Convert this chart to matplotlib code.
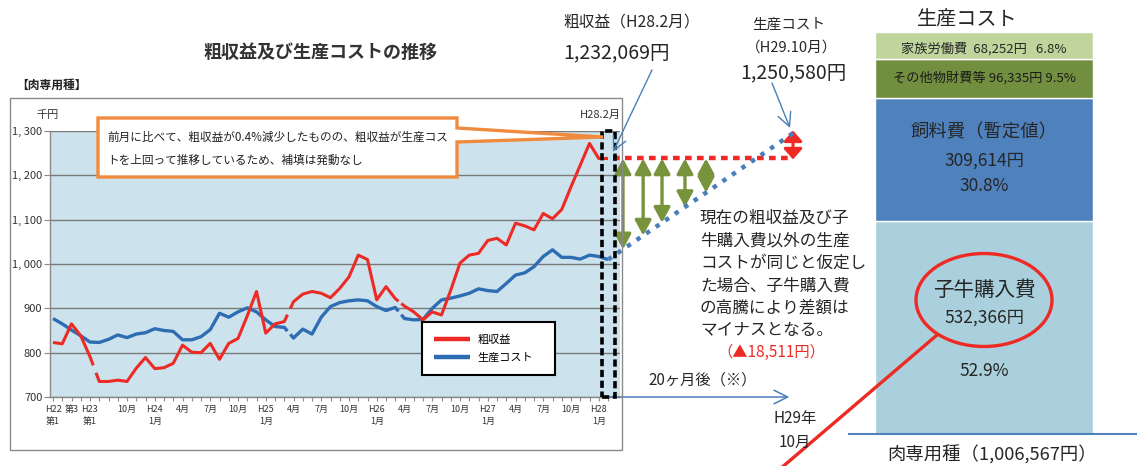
import numpy as np
import matplotlib
matplotlib.use('Agg')
import matplotlib.pyplot as plt
from matplotlib.patches import Rectangle, Polygon, Ellipse

plt.rcParams['font.family'] = ['Noto Sans CJK JP', 'DejaVu Sans']

W, H = 1137, 466

# ---------------- data ----------------
revenue = [823, 820, 865, 838, 791,
           735, 735, 738, 735, 765, 789, 764, 766, 776, 817, 801, 800, 821, 785, 821,
           832, 883, 938, 844, 865, 870,
           915, 932, 938, 934, 924, 945, 971, 1020, 1010, 919, 949, 922,
           905, 892, 874, 892, 885, 941, 1002, 1020, 1024, 1053, 1058, 1043, 1092,
           1086, 1077, 1114, 1102, 1123, 1174, 1223, 1272, 1238, 1238]
cost = [877, 865, 851, 838, 824,
        823, 830, 840, 834, 842, 845, 854, 850, 848, 829, 829, 836, 852, 889, 880,
        892, 901, 892, 874, 859, 857,
        833, 853, 842, 880, 904, 913, 917, 919, 917, 904, 895, 902,
        877, 874, 875, 900, 919, 923, 928, 934, 944, 940, 938, 956, 975,
        980, 994, 1017, 1032, 1015, 1015, 1011, 1020, 1017, 1010]
revenue_breaks = [5, 26, 38]
cost_breaks = [26, 38]

xtick_pos = [0, 2, 4, 8, 11, 14, 17, 20, 23, 26, 29, 32, 35, 38, 41, 44, 47, 50, 53, 56, 59]
xtick_labels = ['H22\n第1', '第3', 'H23\n第1', '10月', 'H24\n1月', '4月', '7月', '10月',
                'H25\n1月', '4月', '7月', '10月', 'H26\n1月', '4月', '7月', '10月',
                'H27\n1月', '4月', '7月', '10月', 'H28\n1月']
ytick_values = [700, 800, 900, 1000, 1100, 1200, 1300]
ytick_labels = ['700', '800', '900', '1, 000', '1, 100', '1, 200', '1, 300']

months_ahead = 20
cost_projected = 1295          # end of the projected cost line as drawn (千円)

revenue_label = '1,232,069円'
cost_label = '1,250,580円'
gap_label = '（▲18,511円）'

bar_items = ['子牛購入費', '飼料費（暫定値）', 'その他物財費等', '家族労働費']
bar_values = [532366, 309614, 96335, 68252]
bar_shares = [52.9, 30.8, 9.5, 6.8]
bar_value_labels = ['532,366円', '309,614円', '96,335円', '68,252円']
bar_total_label = '肉専用種（1,006,567円）'

# ---------------- styles ----------------
RED = '#ee2a24'
BLUE = '#2e6db4'
GREEN = '#77933c'
DBLUE = '#4a7ebb'
TXT = '#262626'
bar_colors = ['#a9d0dc', '#4f81bd', '#728f3f', '#c0d59c']

fig = plt.figure(figsize=(W / 100, H / 100), dpi=100)
fig.patch.set_facecolor('white')


def px_axes(x0, y0, x1, y1):
    return fig.add_axes([x0 / W, 1 - y1 / H, (x1 - x0) / W, (y1 - y0) / H])


# ---------------- line chart ----------------
ax = px_axes(50, 131, 620, 397)
ax.set_facecolor('#cce3ed')
ax.set_xlim((50 - 53) / 9.25, (620 - 53) / 9.25)
ax.set_ylim(700, 1300)


def draw_series(vals, breaks, color, lw, z):
    """Draw a series as segments; at each break, only a short gap is left open."""
    vals = np.asarray(vals, dtype=float)
    idx = [0] + list(breaks) + [len(vals)]
    handles = []
    for a, b in zip(idx[:-1], idx[1:]):
        xs = list(np.arange(a, b, dtype=float))
        ys = list(vals[a:b])
        if a > 0:   # resume part of the connecting interval
            t = 0.65
            xs.insert(0, a - 1 + t)
            ys.insert(0, vals[a - 1] + t * (vals[a] - vals[a - 1]))
        if b < len(vals):  # lead-in part of the connecting interval
            t = 0.35
            xs.append(b - 1 + t)
            ys.append(vals[b - 1] + t * (vals[b] - vals[b - 1]))
        handles += ax.plot(xs, ys, color=color, lw=lw, solid_capstyle='butt', zorder=z)
    return handles


cost_lines = draw_series(cost, cost_breaks, BLUE, 2.4, 3)
rev_lines = draw_series(revenue, revenue_breaks, RED, 2.2, 4)

ax.set_yticks(ytick_values, ytick_labels)
ax.set_xticks(xtick_pos, xtick_labels)
ax.set_xticks(np.arange(0, len(revenue)), minor=True)
ax.yaxis.grid(True, color='#7a7a7a', lw=1.0)
ax.set_axisbelow(True)
for s in ['top', 'right']:
    ax.spines[s].set_visible(False)
for s in ['left', 'bottom']:
    ax.spines[s].set_color('#8a8a8a')
    ax.spines[s].set_linewidth(1.0)
ax.tick_params(axis='y', length=4, width=0.8, color='#8a8a8a', labelsize=8,
               labelcolor='#333333', pad=1.5)
ax.tick_params(axis='x', which='both', length=3, width=0.8, color='#8a8a8a',
               labelsize=6.5, labelcolor='#333333', pad=3)
for t in ax.get_xticklabels():
    t.set_linespacing(1.35)

leg = ax.legend([rev_lines[0], cost_lines[0]], ['粗収益', '生産コスト'],
                loc='upper left', bbox_to_anchor=(422 / W, 1 - 379 / H, 133 / W, 57 / H),
                bbox_transform=fig.transFigure, mode='expand', fontsize=8,
                handlelength=3.2, handletextpad=0.7, borderpad=1.1, labelspacing=0.75,
                fancybox=False, framealpha=1, borderaxespad=0)
leg.get_frame().set_edgecolor('black')
leg.get_frame().set_linewidth(1.5)
for l in leg.get_lines():
    l.set_linewidth(3.2)
leg.set_zorder(6)

last = len(revenue) - 1
end = last + months_ahead
rev_now = revenue[-1]
cost_now = cost[-1]

# dashed focus box on the latest month
ax.add_patch(Rectangle((last - 0.65, 700), 1.4, 600, fill=False, edgecolor='black',
                       lw=2.6, linestyle=(0, (2, 1)), clip_on=False, zorder=7))

# projection lines
ax.plot([last + 0.5, end], [rev_now, rev_now], color=RED, lw=3.2,
        linestyle=(0, (1.5, 1.2)), clip_on=False, zorder=5)
ax.plot([last, end], [cost_now, cost_projected], color=DBLUE, lw=3.2,
        linestyle=(0, (1, 1.6)), clip_on=False, zorder=5)

for f in [0.081, 0.19, 0.292, 0.416, 0.53]:
    xa = last + f * months_ahead
    yb = cost_now + f * (cost_projected - cost_now)
    ax.annotate('', xy=(xa, rev_now), xytext=(xa, yb), annotation_clip=False,
                arrowprops=dict(arrowstyle='<|-|>,head_length=0.65,head_width=0.35',
                                mutation_scale=14, lw=2.4, color=GREEN,
                                shrinkA=0, shrinkB=0))
ax.annotate('', xy=(end, cost_projected + 6), xytext=(end, rev_now - 2), annotation_clip=False,
            arrowprops=dict(arrowstyle='<|-|>,head_length=0.45,head_width=0.4',
                            mutation_scale=14, lw=2.2, color=RED, shrinkA=0, shrinkB=0))
ax.annotate('', xy=(end - 0.4, 700), xytext=(last, 700), annotation_clip=False,
            arrowprops=dict(arrowstyle='->,head_length=0.7,head_width=0.35',
                            mutation_scale=14, lw=1.1, color=DBLUE, shrinkA=0, shrinkB=0))

# ---------------- stacked bar ----------------
bx = px_axes(875, 32, 1093, 434)
bottom = 0
for v, c in zip(bar_values, bar_colors):
    bx.bar(0.5, v, width=1.0, bottom=bottom, color=c, edgecolor='white', linewidth=1.0)
    bottom += v
bx.set_xlim(0, 1)
bx.set_ylim(0, sum(bar_values))
bx.axis('off')

# ---------------- overlay (pixel coordinates) ----------------
ov = fig.add_axes([0, 0, 1, 1])
ov.set_xlim(0, W)
ov.set_ylim(H, 0)
ov.axis('off')
ov.set_zorder(10)
ov.patch.set_alpha(0)

# outer chart frame
ov.add_patch(Rectangle((10, 98), 612, 352, fill=False, edgecolor='#8a8a8a', lw=1.0))

ov.text(320, 52, '粗収益及び生産コストの推移', fontsize=13, fontweight='bold',
        color='#333333', ha='center', va='center')
ov.text(16, 85, '【肉専用種】', fontsize=8.5, fontweight='bold', color='#222222',
        ha='left', va='center')
ov.text(48, 115, '千円', fontsize=8, color='#333333', ha='center', va='center')
ov.text(600, 115, 'H28.2月', fontsize=8, color='#333333', ha='center', va='center')

# callout
ov.add_patch(Polygon([(98, 118), (457, 118), (457, 128), (603, 137), (457, 142),
                      (457, 177), (98, 177)], closed=True, facecolor='white',
                     edgecolor='#f08a3c', lw=2.4, joinstyle='miter'))
ov.text(107, 137, '前月に比べて、粗収益が0.4%減少したものの、粗収益が生産コス',
        fontsize=8.4, color='#222222', ha='left', va='center')
ov.text(107, 160, 'トを上回って推移しているため、補填は発動なし',
        fontsize=8.4, color='#222222', ha='left', va='center')

# revenue / cost labels
ov.text(563, 22, '粗収益（H28.2月）', fontsize=11.3, color=TXT, ha='left', va='center')
ov.text(563, 53, revenue_label, fontsize=14, color=TXT, ha='left', va='center')
ov.text(789, 25, '生産コスト', fontsize=10.5, color=TXT, ha='center', va='center')
ov.text(792, 48, '（H29.10月）', fontsize=10.5, color=TXT, ha='center', va='center')
ov.text(793, 73, cost_label, fontsize=14, color=TXT, ha='center', va='center')
arrow_kw = dict(arrowstyle='->,head_length=0.7,head_width=0.35', mutation_scale=14,
                lw=1.0, color=DBLUE, shrinkA=0, shrinkB=0)
ov.annotate('', xy=(613, 152), xytext=(652, 70), arrowprops=arrow_kw)
ov.annotate('', xy=(790, 128), xytext=(772, 83), arrowprops=arrow_kw)

para = ['現在の粗収益及び子', '牛購入費以外の生産', 'コストが同じと仮定し',
        'た場合、子牛購入費', 'の高騰により差額は', 'マイナスとなる。']
for k, line in enumerate(para):
    ov.text(700, 218 + 22.6 * k, line, fontsize=12, color=TXT, ha='left', va='center')
ov.text(771, 352, gap_label, fontsize=11, color=RED, ha='center', va='center')
ov.text(648, 380, '20ヶ月後（※）', fontsize=11, color=TXT, ha='left', va='center')
ov.text(795, 419, 'H29年', fontsize=11, color=TXT, ha='center', va='center')
ov.text(795, 442, '10月', fontsize=11, color=TXT, ha='center', va='center')

# bar labels
ov.text(967, 20, '生産コスト', fontsize=14.5, color=TXT, ha='center', va='center')
ov.text(984, 49, f'{bar_items[3]}  {bar_value_labels[3]}   {bar_shares[3]}%',
        fontsize=9.5, color=TXT, ha='center', va='center')
ov.text(984, 78, f'{bar_items[2]} {bar_value_labels[2]} {bar_shares[2]}%',
        fontsize=9.5, color='#1a1a1a', ha='center', va='center')
ov.text(984, 132, bar_items[1], fontsize=13.2, color=TXT, ha='center', va='center')
ov.text(984, 161, bar_value_labels[1], fontsize=12.5, color=TXT, ha='center', va='center')
ov.text(984, 186, f'{bar_shares[1]}%', fontsize=12.5, color=TXT, ha='center', va='center')
ov.text(984, 290, bar_items[0], fontsize=14.8, color=TXT, ha='center', va='center')
ov.text(984, 318, bar_value_labels[0], fontsize=12.5, color=TXT, ha='center', va='center')
ov.text(984, 371, f'{bar_shares[0]}%', fontsize=12.5, color=TXT, ha='center', va='center')
ov.plot([849, 1137], [434, 434], color='#4f81bd', lw=1.5)
ov.text(992, 455, bar_total_label, fontsize=13.2, color=TXT, ha='center', va='center')

ov.add_patch(Ellipse((984, 300), 136, 93, fill=False, edgecolor=RED, lw=2.4))
ov.plot([780, 937], [469, 335], color=RED, lw=2.4, clip_on=False)

fig.savefig('out.png', dpi=100, facecolor='white')
